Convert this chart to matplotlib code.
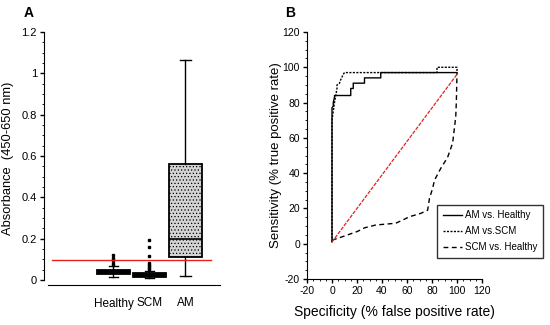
import numpy as np
import matplotlib
matplotlib.use('Agg')
from matplotlib import pyplot as plt
from matplotlib.ticker import MultipleLocator

plt.rcParams['font.family'] = ['Liberation Sans', 'DejaVu Sans']
plt.rcParams['axes.unicode_minus'] = False
plt.rcParams['hatch.color'] = '#9a9a9a'
plt.rcParams['hatch.linewidth'] = 0.5

# Panel A: box plot summaries
groups = ['Healthy', 'SCM', 'AM']
whislo = [0.013, 0.010, 0.018]
q1 = [0.028, 0.014, 0.110]
med = [0.038, 0.022, 0.200]
q3 = [0.048, 0.032, 0.560]
whishi = [0.068, 0.044, 1.065]
fliers = [[0.075, 0.082, 0.095, 0.108, 0.122],
          [0.052, 0.060, 0.068, 0.075, 0.083, 0.118, 0.158, 0.194],
          []]
cutoff = 0.097

# Panel B: ROC curves
am_h_x = [0, 0, 0, 1, 1, 2, 2, 15, 15, 17, 17, 26, 26, 39, 39, 100]
am_h_y = [1, 70, 77, 78, 80, 83, 84, 84, 88, 88, 91, 91, 94, 94, 97, 97]
am_s_x = [0, 0, 1, 2, 3, 4, 4, 6, 7, 9, 10, 84, 84, 100, 100]
am_s_y = [1, 70, 75, 80, 84, 88, 90, 91, 93, 96, 97, 97, 100, 100, 97]
scm_h_x = [0, 8.5, 20.5, 26, 35, 51, 56.5, 62, 71, 76.5, 78, 80.5, 82, 87, 92.5, 96.5, 99, 99.5, 100]
scm_h_y = [2, 4, 7, 9, 10.6, 11.6, 13.4, 15.3, 17.2, 19, 25.7, 31.4, 36, 42.7, 49, 57, 72, 81, 97]
diag_x = [0, 100]
diag_y = [1, 96]

fig = plt.figure(figsize=(5.5, 3.25), dpi=100)

# ---- Panel A
ax = fig.add_axes([44 / 550, 40 / 325, 176 / 550, 253 / 325])
stats = []
for i in range(len(groups)):
    stats.append(dict(label=groups[i], whislo=whislo[i], q1=q1[i], med=med[i],
                      q3=q3[i], whishi=whishi[i], fliers=fliers[i]))
bp = ax.bxp(stats, positions=[1, 2, 3], widths=0.92, patch_artist=True,
            capwidths=[0.25, 0.25, 0.32],
            boxprops=dict(facecolor='#d4d4d4', edgecolor='black', linewidth=1.3, hatch='.....'),
            medianprops=dict(color='black', linewidth=1.2),
            whiskerprops=dict(color='black', linewidth=1),
            capprops=dict(color='black', linewidth=1),
            flierprops=dict(marker='s', markersize=1.5, markerfacecolor='black',
                            markeredgecolor='black', linestyle='none'))
for b in bp['boxes'][:2]:
    b.set_facecolor('black')
ax.plot([-0.7, 3.7], [cutoff, cutoff], color='#e8201a', linewidth=1, zorder=5)
ax.set_xlim(-0.93, 3.96)
ax.set_ylim(-0.024, 1.2)
ax.spines['top'].set_visible(False)
ax.spines['right'].set_visible(False)
ax.spines['left'].set_bounds(0, 1.2)
ax.spines['bottom'].set_bounds(-0.82, 3.96)
ax.yaxis.set_minor_locator(MultipleLocator(0.05))
ax.set_yticks([0, 0.2, 0.4, 0.6, 0.8, 1.0, 1.2])
ax.set_yticklabels(['0', '0.2', '0.4', '0.6', '0.8', '1', '1.2'])
ax.tick_params(axis='y', labelsize=8, length=3, width=1, pad=2)
ax.tick_params(axis='y', which='minor', length=1.5)
ax.tick_params(axis='x', length=0, labelsize=8.5, pad=9)
ax.set_ylabel('Absorbance  (450-650 nm)', fontsize=9.3)
ax.yaxis.set_label_coords(-30 / 176, 0.5)
fig.text(29 / 550, 1 - 13 / 325, 'A', fontsize=10, fontweight='bold', ha='center', va='center')

# ---- Panel B
bx = fig.add_axes([307 / 550, 46 / 325, 175 / 550, 247 / 325])
bx.plot(am_h_x, am_h_y, color='black', linewidth=1, linestyle='-', label='AM vs. Healthy')
bx.plot(am_s_x, am_s_y, color='black', linewidth=1, linestyle=(0, (1.5, 1)), label='AM vs.SCM')
bx.plot(scm_h_x, scm_h_y, color='black', linewidth=1, linestyle=(0, (3.5, 2.5)), label='SCM vs. Healthy')
bx.plot(diag_x, diag_y, color='#e8201a', linewidth=0.9, linestyle=(0, (3, 1)))
bx.set_xlim(-20, 120)
bx.set_ylim(-20, 120)
bx.spines['top'].set_visible(False)
bx.spines['right'].set_visible(False)
bx.xaxis.set_major_locator(MultipleLocator(20))
bx.yaxis.set_major_locator(MultipleLocator(20))
bx.xaxis.set_minor_locator(MultipleLocator(5))
bx.yaxis.set_minor_locator(MultipleLocator(5))
bx.tick_params(labelsize=7.5, length=3, width=1, pad=2)
bx.tick_params(which='minor', length=1.5)
bx.set_xlabel('Specificity (% false positive rate)', fontsize=10)
bx.xaxis.set_label_coords(0.5, -26 / 247)
bx.set_ylabel('Sensitivity (% true positive rate)', fontsize=9.5)
bx.yaxis.set_label_coords(-25 / 175, 0.5)
leg = bx.legend(loc='lower left', bbox_to_anchor=(437 / 550, 67 / 325),
                bbox_transform=fig.transFigure, frameon=True,
                prop=dict(family=['Liberation Sans', 'DejaVu Sans'], size=7),
                fancybox=False, edgecolor='black', handlelength=2.0,
                handletextpad=0.3, borderpad=0.6, labelspacing=0.6,
                borderaxespad=0)
leg.get_frame().set_linewidth(1)
fig.text(290 / 550, 1 - 13 / 325, 'B', fontsize=10, fontweight='bold', ha='center', va='center')

fig.savefig('out.png', dpi=100)
